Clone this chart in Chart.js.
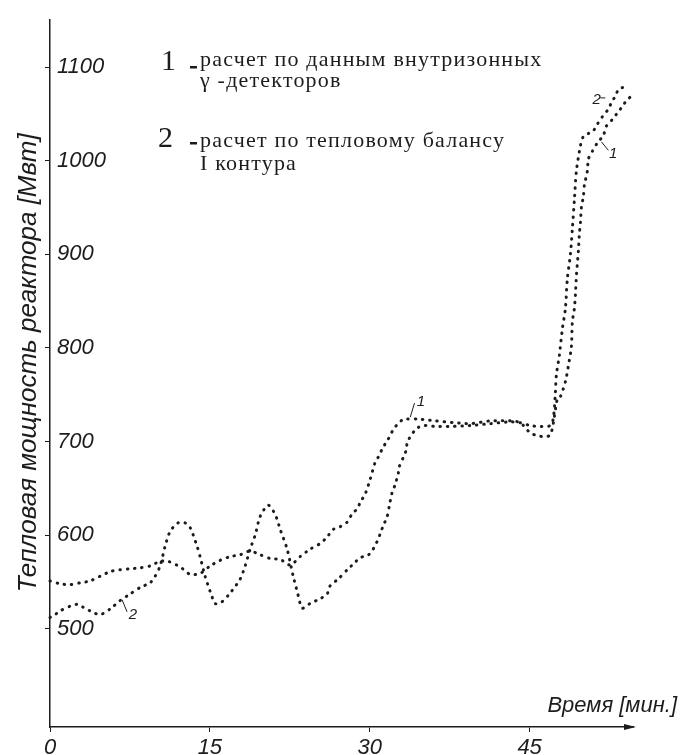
<!DOCTYPE html>
<html>
<head>
<meta charset="utf-8">
<script src="https://cdn.jsdelivr.net/npm/chart.js@4.4.0/dist/chart.umd.min.js"></script>
<style>
  html, body { margin: 0; padding: 0; background: #fff; }
</style>
</head>
<body>
<canvas id="chart_power" width="680" height="755"></canvas>
<script>
// curve 1 - calculated from in-core gamma detectors
var time1 = [0, 0.94, 1.88, 2.82, 3.76, 4.69, 5.63, 6.57, 7.51, 8.45, 9.39, 10.33, 11.08, 12.21, 13.15,
  14.08, 15.02, 15.96, 16.9, 17.84, 18.78, 19.72, 20.66, 21.6, 22.54, 23.47, 24.41, 25.35, 26.0, 26.57,
  27.23, 27.89, 28.36, 28.83, 29.11, 29.58, 30.05, 30.52, 30.89, 31.17, 31.64, 31.92, 32.21, 32.58,
  33.05, 33.52, 34.55, 36.15, 38.03, 39.44, 41.31, 43.19, 44.13, 45.07, 45.82, 46.48, 46.95, 47.23,
  47.61, 47.89, 48.36, 48.64, 48.92, 49.01, 49.2, 49.3, 49.39, 49.48, 49.58, 49.67, 49.77, 49.86,
  50.05, 50.14, 50.42, 50.52, 50.89, 51.36, 51.92, 52.21, 52.77, 53.24, 53.71, 54.08, 54.65];
var power1 = [551, 548, 547, 549, 551, 556, 561, 563, 564, 565, 567, 572, 572, 566, 558,
  559, 567, 573, 577, 579, 583, 579, 575, 574, 568, 577, 585, 591, 598, 606,
  609, 614, 623, 628, 635, 644, 660, 678, 685, 692, 701, 706, 713, 718,
  723, 724, 724, 722, 720, 719, 722, 722, 720, 709, 706, 705, 707, 720,
  746, 748, 764, 781, 801, 828, 842, 857, 877, 890, 904, 922, 934, 950,
  962, 974, 989, 1002, 1010, 1019, 1027, 1037, 1044, 1051, 1058, 1064, 1070];

// curve 2 - calculated from primary circuit heat balance
var time2 = [0, 0.47, 0.94, 1.88, 2.54, 3.1, 3.76, 4.69, 5.63, 6.57, 7.51, 8.45, 9.39, 9.86, 10.33,
  10.8, 11.27, 12.02, 12.68, 13.15, 13.8, 14.08, 14.55, 15.02, 15.49, 15.96, 16.9, 17.84, 18.31,
  18.78, 19.25, 19.72, 20.47, 21.13, 21.6, 22.25, 22.82, 23.19, 23.66, 24.41, 25.35, 26.0, 26.29,
  27.04, 27.98, 28.45, 29.11, 29.77, 30.23, 30.52, 30.8, 30.99, 31.27, 31.64, 31.83, 32.11, 32.39,
  32.68, 32.77, 33.15, 33.43, 33.52, 33.9, 34.18, 34.55, 35.02, 35.49, 36.15, 37.56, 39.44, 41.31,
  43.19, 44.13, 45.07, 46.01, 46.95, 47.23, 47.42, 47.51, 47.79, 48.08, 48.36, 48.54, 48.83, 49.01,
  49.2, 49.39, 49.77, 50.05, 50.52, 50.99, 51.36, 51.83, 52.39, 52.68, 53.05, 53.33, 53.71, 54.27];
var power2 = [512, 515, 519, 524, 526, 523, 519, 515, 521, 530, 537, 544, 549, 556, 567,
  588, 604, 613, 613, 608, 588, 577, 556, 540, 527, 527, 538, 553, 567,
  585, 600, 620, 632, 622, 606, 585, 556, 540, 522, 527, 532, 537, 546,
  553, 564, 569, 576, 578, 583, 590, 595, 602, 610, 620, 631, 646, 654,
  666, 673, 683, 691, 699, 707, 711, 715, 717, 717, 716, 716, 717, 719,
  721, 720, 717, 716, 717, 725, 752, 771, 792, 821, 842, 874, 900, 927,
  958, 989, 1016, 1026, 1029, 1032, 1039, 1047, 1055, 1062, 1069, 1076, 1078, 1080];

var xTicks = [0, 15, 30, 45];
var yTicks = [500, 600, 700, 800, 900, 1000, 1100];

var ink = '#1c1c1c';
var sansFamily = '"Liberation Sans", Arial, sans-serif';
var serifFamily = '"Liberation Serif", "Times New Roman", serif';

function toPoints(xs, ys) {
  return xs.map(function(x, i) { return {x: x, y: ys[i]}; });
}

function curveConfig(label, xs, ys) {
  return {
    label: label,
    data: toPoints(xs, ys),
    borderColor: ink,
    borderWidth: 3,
    borderDash: [0.5, 6.8],
    borderCapStyle: 'round',
    pointRadius: 0,
    tension: 0.25,
    fill: false,
    clip: false
  };
}

// texts drawn on top: legend block, curve labels, x axis title, arrow
var notesPlugin = {
  id: 'notes',
  afterDraw: function(chart) {
    var ctx = chart.ctx;
    var xs = chart.scales.x, ys = chart.scales.y;
    function px(t) { return xs.getPixelForValue(t); }
    function py(v) { return ys.getPixelForValue(v); }

    ctx.save();
    ctx.fillStyle = ink;
    ctx.strokeStyle = ink;

    // arrow head of time axis
    var ax = xs.right, ay = xs.top;
    ctx.beginPath();
    ctx.moveTo(ax + 3, ay);
    ctx.lineTo(ax - 9, ay - 3);
    ctx.lineTo(ax - 9, ay + 3);
    ctx.closePath();
    ctx.fill();

    // axis title
    ctx.font = 'italic 22px ' + sansFamily;
    ctx.textAlign = 'right';
    ctx.textBaseline = 'alphabetic';
    ctx.fillText('Время [мин.]', 677, 712);

    // legend
    ctx.textAlign = 'left';
    ctx.font = '30px ' + serifFamily;
    ctx.fillText('1', 161, 70);
    ctx.fillText('2', 158, 147);
    ctx.fillRect(190, 66, 7, 2.5);
    ctx.fillRect(190, 142, 7, 2.5);
    ctx.font = '22px ' + serifFamily;
    ctx.letterSpacing = '1.2px';
    ctx.fillText('расчет по данным внутризонных', 200, 66);
    ctx.fillText('γ -детекторов', 200, 87);
    ctx.fillText('расчет по тепловому балансу', 200, 147);
    ctx.fillText('I контура', 200, 170);
    ctx.letterSpacing = '0px';

    // curve labels
    ctx.font = 'italic 15px ' + sansFamily;
    ctx.lineWidth = 1;
    ctx.beginPath();
    ctx.moveTo(px(33.8), py(726)); ctx.lineTo(px(34.2), py(741));
    ctx.moveTo(px(6.76), py(531)); ctx.lineTo(px(7.23), py(518));
    ctx.moveTo(px(51.74), py(1020)); ctx.lineTo(px(52.39), py(1011));
    ctx.moveTo(px(51.64), py(1067)); ctx.lineTo(px(52.1), py(1067));
    ctx.stroke();
    ctx.fillText('1', px(34.4), py(738));
    ctx.fillText('2', px(7.4), py(510));
    ctx.fillText('2', px(50.9), py(1061));
    ctx.fillText('1', px(52.45), py(1003));
    ctx.restore();
  }
};

var ctx = document.getElementById('chart_power').getContext('2d');
new Chart(ctx, {
  type: 'line',
  data: {
    datasets: [curveConfig('1', time1, power1), curveConfig('2', time2, power2)]
  },
  options: {
    responsive: false,
    animation: false,
    layout: { padding: { left: 0, right: 47, top: 13, bottom: 0 } },
    plugins: {
      legend: { display: false },
      tooltip: { enabled: false }
    },
    scales: {
      x: {
        type: 'linear',
        min: 0,
        max: 54.7,
        afterBuildTicks: function(s) { s.ticks = xTicks.map(function(v) { return {value: v}; }); },
        afterFit: function(s) { s.height = 28; },
        border: { display: true, color: ink, width: 1.5 },
        grid: { drawOnChartArea: false, drawTicks: true, tickLength: 5, color: ink },
        ticks: {
          padding: 3, maxRotation: 0, autoSkip: false, color: ink,
          callback: function(v) { return String(v); },
          font: { family: sansFamily, style: 'italic', size: 22 }
        }
      },
      y: {
        type: 'linear',
        min: 395,
        max: 1150,
        afterBuildTicks: function(s) { s.ticks = yTicks.map(function(v) { return {value: v}; }); },
        afterFit: function(s) { s.width = 50; },
        border: { display: true, color: ink, width: 1.5 },
        grid: { drawOnChartArea: false, drawTicks: true, tickLength: 5, color: ink },
        ticks: {
          mirror: true, padding: 7, color: ink,
          callback: function(v) { return String(v); },
          font: { family: sansFamily, style: 'italic', size: 22 }
        },
        title: {
          display: true,
          text: '   Тепловая мощность реактора [Мвт]',
          color: ink,
          padding: { top: 13, bottom: 0 },
          font: { family: sansFamily, style: 'italic', size: 26, weight: 'normal' }
        }
      }
    }
  },
  plugins: [notesPlugin]
});
</script>
</body>
</html>
